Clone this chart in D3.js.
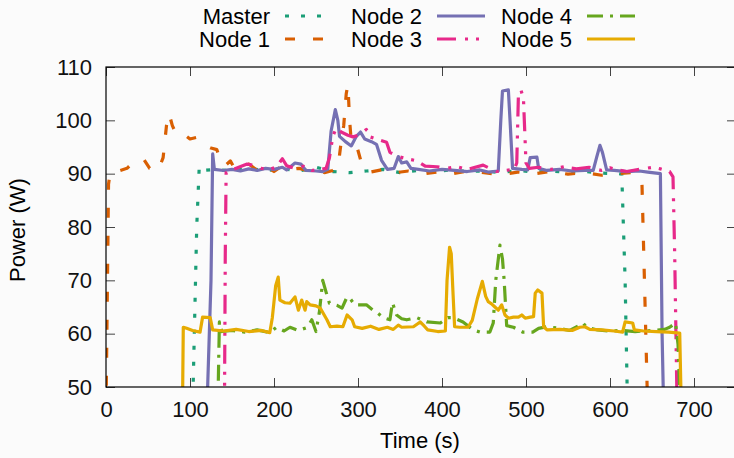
<!DOCTYPE html>
<html>
<head>
<meta charset="utf-8">
<script src="https://cdn.jsdelivr.net/npm/d3@7"></script>
<style>
  body { margin: 0; background: #fbfbfb; }
  svg { font-family: "Liberation Sans", Arial, sans-serif; }
  .tick text { font-size: 22px; fill: #111; }
</style>
</head>
<body>
<div id="main"></div>
<script>
// readings: [time (s), power (W)]
const master = [
  [103, 45], [108, 80], [111, 91.3], [114, 90.6], [130, 90.8], [150, 90.5], [170, 91],
  [190, 90.6], [210, 90.9], [230, 90.5], [250, 91.2], [270, 90.4], [290, 90.2], [310, 90.5],
  [330, 90.8], [350, 90.2], [370, 90.6], [390, 90.3], [410, 90.7], [430, 90.4], [450, 90.5],
  [470, 90.2], [490, 90.6], [510, 90.3], [530, 90.5], [550, 90.2], [570, 90.4], [590, 90.1],
  [610, 90], [614, 89.9], [618, 70], [621, 45]
];
const node1 = [
  [0, 45], [3, 88], [5, 90.3], [15, 90.5], [25, 91], [35, 92.5], [45, 92.7], [52, 91],
  [62, 90.5], [68, 93], [72, 99], [75, 101.3], [79, 99], [84, 97.3], [92, 97.5], [100, 96.5],
  [108, 96.8], [115, 95.5], [125, 94.8], [132, 94.5], [137, 92], [142, 91.5], [148, 92.4],
  [153, 91], [160, 91.5], [170, 91.8], [180, 90.6], [190, 91.5], [200, 90.4], [210, 91.5],
  [220, 90.8], [230, 91], [240, 90.6], [250, 90.8], [260, 90.2], [270, 90.6], [276, 91],
  [280, 96], [283, 99], [286, 105], [288, 106.7], [290, 100], [292, 96], [298, 95.5],
  [305, 91.5], [315, 90.3], [330, 90.8], [345, 90.2], [360, 90.5], [380, 90], [395, 90.3],
  [410, 89.9], [430, 90.5], [450, 90.2], [470, 89.8], [490, 90.3], [510, 90], [530, 90.4],
  [550, 89.9], [570, 90.2], [590, 89.7], [610, 90], [625, 90.2], [633, 89.5], [638, 88.5],
  [641, 70], [645, 45]
];
const node2 = [
  [120, 45], [125, 70], [127, 93.7], [129, 90.8], [140, 90.6], [150, 90.8], [160, 90.5],
  [170, 90.9], [180, 90.6], [190, 91], [200, 90.8], [210, 91.2], [215, 90.7], [225, 92],
  [232, 91.8], [238, 90.6], [250, 90.5], [258, 90.4], [264, 90.8], [268, 98], [273, 102],
  [276, 100], [278, 97], [285, 96], [292, 95.2], [298, 97], [303, 97.8], [308, 96.5],
  [316, 96], [322, 95.5], [328, 92.5], [335, 90.8], [343, 91], [348, 93.2], [352, 92],
  [358, 92.2], [363, 91], [372, 90.8], [385, 90.5], [400, 90.8], [415, 90.6], [430, 90.4],
  [445, 90.7], [455, 90.3], [467, 90.5], [470, 100], [472, 105.5], [479, 105.7], [481, 100],
  [484, 91], [495, 90.8], [502, 90.7], [505, 93], [513, 93.1], [515, 91], [525, 90.6],
  [540, 90.8], [555, 90.5], [570, 90.6], [580, 90.6], [584, 93], [588, 95.3], [591, 94],
  [596, 90.7], [605, 90.6], [620, 90.4], [635, 90.5], [645, 90.3], [655, 90.1], [660, 90],
  [662, 60], [664, 45]
];
const node3 = [
  [141, 45], [142, 75], [143, 90.2], [148, 90.6], [158, 91.2], [168, 91.8], [178, 91.5],
  [185, 91], [195, 90.8], [203, 91.3], [210, 92.8], [215, 91.5], [225, 91], [235, 91.4],
  [245, 90.6], [255, 90.8], [262, 91], [266, 93], [270, 97], [274, 98.5], [280, 97.8],
  [288, 97.2], [294, 96.9], [302, 97.3], [310, 98.3], [314, 96.9], [322, 96.5], [334, 95.9],
  [338, 94], [348, 93.2], [358, 92.8], [370, 92.4], [380, 91.4], [394, 91.3], [405, 91],
  [418, 91.3], [430, 90.8], [449, 91.6], [457, 91], [465, 90.4], [475, 90.6], [486, 90.8],
  [489, 92], [491, 105], [494, 105.7], [497, 104], [500, 92], [504, 91], [515, 91.2],
  [530, 90.8], [545, 91.3], [560, 90.9], [575, 91.2], [590, 90.6], [600, 91.1], [610, 90.7],
  [620, 90.4], [635, 90.8], [651, 91.2], [660, 90.9], [671, 90.4], [675, 89.4], [677, 75],
  [680, 45]
];
const node4 = [
  [133, 45], [135, 62.2], [138, 60.4], [150, 60.6], [165, 60.3], [180, 60.7], [195, 60.2],
  [203, 61.2], [212, 60.5], [219, 61.2], [229, 60.6], [240, 61.2], [245, 62.6], [250, 60.4],
  [254, 64], [258, 70], [262, 67.8], [266, 65.7], [275, 65.3], [281, 64.8], [287, 66.9],
  [291, 66.5], [296, 65.4], [310, 65.4], [318, 64.4], [324, 63.8], [330, 63], [338, 62.6],
  [341, 65.8], [346, 63.5], [352, 62.8], [358, 62.6], [370, 63], [382, 62.2], [398, 62],
  [407, 63], [413, 63], [425, 62.2], [437, 60.7], [445, 60.3], [457, 60.3], [461, 62],
  [464, 70], [469, 76.6], [472, 74], [474, 70], [477, 61.5], [485, 61.2], [496, 60.3],
  [508, 60.3], [515, 61], [525, 61.3], [540, 61], [552, 60.6], [564, 61.6], [568, 62],
  [572, 61.2], [585, 60.7], [600, 60.5], [615, 60.6], [630, 60.4], [650, 60.6], [665, 60.8],
  [671, 61.2], [678, 62], [681, 58], [684, 45]
];
const node5 = [
  [91, 45], [92, 61.2], [96, 61], [103, 60.6], [112, 60.3], [115, 63.1], [124, 63],
  [127, 60.7], [140, 60.5], [155, 60.8], [170, 60.4], [185, 60.6], [195, 60.2], [198, 63],
  [202, 69], [205, 70.6], [207, 66.3], [213, 65.8], [219, 65.7], [225, 66.9], [229, 64.4],
  [233, 66.3], [237, 64.4], [239, 66], [243, 65.4], [250, 65.2], [255, 64.8], [263, 62.6],
  [267, 61.3], [275, 61.4], [282, 61.3], [287, 63.5], [293, 62.6], [296, 61.3], [305, 61],
  [315, 61.4], [325, 60.8], [335, 61.2], [342, 60.8], [348, 61.6], [352, 61.2], [366, 61.3],
  [374, 62.2], [379, 61.4], [383, 60.7], [395, 60.4], [404, 60.5], [406, 70], [409, 76.2],
  [411, 75], [413, 68], [415, 61.3], [421, 61.2], [431, 61.2], [436, 62.5], [442, 66.5],
  [448, 69.8], [452, 67], [455, 66], [459, 65.6], [463, 65], [467, 64.4], [471, 65.4],
  [475, 63.5], [479, 62.9], [485, 63.1], [491, 63.1], [495, 63.5], [499, 62.9], [505, 63.1],
  [509, 63.2], [511, 67.6], [514, 68.2], [519, 67.6], [521, 61.3], [525, 60.7], [540, 60.8],
  [555, 60.6], [564, 61.2], [570, 61.3], [576, 60.8], [590, 60.7], [605, 60.5], [615, 60.3],
  [618, 62.2], [627, 62], [629, 60.7], [640, 60.5], [655, 60.4], [670, 60.3], [683, 60.1],
  [685, 45]
];

const seriesNames = ['Master', 'Node 1', 'Node 2', 'Node 3', 'Node 4', 'Node 5'];
const seriesData = [master, node1, node2, node3, node4, node5];
const xTicks = [0, 100, 200, 300, 400, 500, 600, 700];
const yTicks = [50, 60, 70, 80, 90, 100, 110];

const colors = ['#1b9e77', '#d95f02', '#7570b3', '#e7298a', '#66a61e', '#e6ab02'];
const dashes = ['4,12', '10,18', null, '19,9,3,8,3,8', '16,7,3,7', null];

const width = 734;
const height = 458;
const margin = { top: 67, right: -2, bottom: 71, left: 106 };

const xScale = d3.scaleLinear()
  .domain([0, 750])
  .range([margin.left, width - margin.right]);

const yScale = d3.scaleLinear()
  .domain([50, 110])
  .range([height - margin.bottom, margin.top]);

const svg = d3.select('#main')
  .append('svg')
  .attr('width', width)
  .attr('height', height);

svg.append('defs').append('clipPath')
  .attr('id', 'plot')
  .append('rect')
  .attr('x', margin.left)
  .attr('y', margin.top)
  .attr('width', xScale.range()[1] - margin.left)
  .attr('height', yScale.range()[0] - margin.top);

const tick = 9;
svg.append('g')
  .attr('transform', `translate(0, ${yScale(50)})`)
  .call(d3.axisBottom(xScale).tickValues(xTicks).tickSize(-tick).tickPadding(14))
  .call(g => g.select('.domain').remove());

svg.append('g')
  .attr('transform', `translate(0, ${yScale(110)})`)
  .call(d3.axisTop(xScale).tickValues(xTicks).tickSize(-tick).tickFormat(''))
  .call(g => g.select('.domain').remove());

svg.append('g')
  .attr('transform', `translate(${margin.left}, 0)`)
  .call(d3.axisLeft(yScale).tickValues(yTicks).tickSize(-tick).tickPadding(14))
  .call(g => g.select('.domain').remove());

svg.append('g')
  .attr('transform', `translate(${xScale.range()[1]}, 0)`)
  .call(d3.axisRight(yScale).tickValues(yTicks).tickSize(-tick).tickFormat(''))
  .call(g => g.select('.domain').remove());

svg.selectAll('.tick line').attr('stroke', '#444');

const line = d3.line()
  .x(d => xScale(d[0]))
  .y(d => yScale(d[1]));

const plot = svg.append('g').attr('clip-path', 'url(#plot)');
seriesData.forEach((data, i) => {
  plot.append('path')
    .datum(data)
    .attr('d', line)
    .attr('fill', 'none')
    .attr('stroke', colors[i])
    .attr('stroke-width', 3.2)
    .attr('stroke-linejoin', 'round')
    .attr('stroke-dasharray', dashes[i]);
});

svg.append('rect')
  .attr('x', margin.left)
  .attr('y', margin.top)
  .attr('width', xScale.range()[1] - margin.left)
  .attr('height', yScale.range()[0] - margin.top)
  .attr('fill', 'none')
  .attr('stroke', '#000')
  .attr('stroke-width', 1.2);

// legend: three columns, two rows
const colText = [270, 422, 572];
const rowY = [24, 47];
seriesNames.forEach((name, i) => {
  const col = Math.floor(i / 2);
  const row = i % 2;
  svg.append('text')
    .attr('x', colText[col])
    .attr('y', rowY[row])
    .style('font-size', '22px')
    .style('text-anchor', 'end')
    .text(name);
  svg.append('line')
    .attr('x1', colText[col] + 15)
    .attr('x2', colText[col] + 63)
    .attr('y1', rowY[row] - 8)
    .attr('y2', rowY[row] - 8)
    .attr('stroke', colors[i])
    .attr('stroke-width', 3.2)
    .attr('stroke-dasharray', dashes[i]);
});

svg.append('text')
  .attr('x', 420)
  .attr('y', 448)
  .style('font-size', '22px')
  .style('text-anchor', 'middle')
  .text('Time (s)');

svg.append('text')
  .attr('transform', 'rotate(-90)')
  .attr('x', -230)
  .attr('y', 25)
  .style('font-size', '22px')
  .style('text-anchor', 'middle')
  .text('Power (W)');
</script>
</body>
</html>
